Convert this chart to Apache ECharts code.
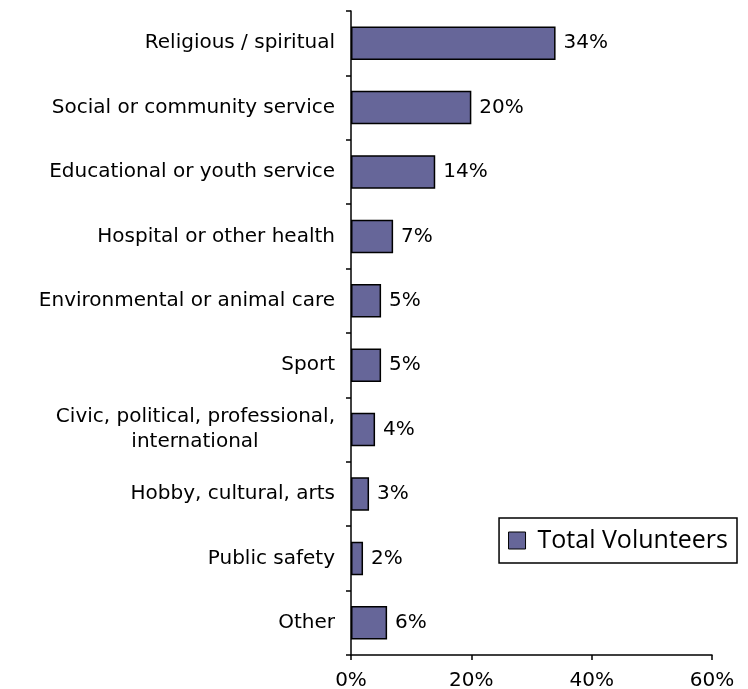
<!DOCTYPE html>
<html>
<head>
<meta charset="utf-8">
<script src="https://cdn.jsdelivr.net/npm/echarts@6/dist/echarts.min.js"></script>
<style>
  html, body { margin: 0; padding: 0; background: #ffffff; }
  #chart { width: 748px; height: 689px; }
</style>
</head>
<body>
<div id="chart"></div>
<script>
// Volunteer share by type of organisation
const categories = [
  'Religious / spiritual',
  'Social or community service',
  'Educational or youth service',
  'Hospital or other health',
  'Environmental or animal care',
  'Sport',
  'Civic, political, professional,\ninternational',
  'Hobby, cultural, arts',
  'Public safety',
  'Other'
];
const totalVolunteers = [34, 20, 14, 7, 5, 5, 4, 3, 2, 6];
const xTicks = { min: 0, max: 60, interval: 20 };

const labelFont = 'DejaVu Sans';
const labelSize = 20;

// width of the first line of a two-line label, so the second line can be centred under it
function lineWidth(text) {
  const c = document.createElement('canvas').getContext('2d');
  c.font = labelSize + 'px "' + labelFont + '"';
  return Math.ceil(c.measureText(text).width);
}

const chart = echarts.init(document.getElementById('chart'));
chart.setOption({
  backgroundColor: '#ffffff',
  animation: false,
  grid: {
    left: 351, top: 11, width: 361, height: 644,
    containLabel: false,
    outerBoundsMode: 'none'
  },
  legend: {
    data: ['Total Volunteers'],
    right: 11,
    top: 518,
    orient: 'vertical',
    icon: 'rect',
    itemWidth: 17,
    itemHeight: 17,
    itemGap: 6,
    padding: [10, 9, 10, 9],
    borderColor: '#000000',
    borderWidth: 1.5,
    textStyle: { fontFamily: 'Open Sans', fontSize: 25, color: '#000000', padding: [0, 0, 0, 7] },
    itemStyle: { borderColor: '#000000', borderWidth: 1 }
  },
  xAxis: {
    type: 'value',
    min: xTicks.min,
    max: xTicks.max,
    interval: xTicks.interval,
    splitLine: { show: false },
    axisLine: { show: true, lineStyle: { color: '#000000', width: 1.5 } },
    axisTick: { show: true, length: 5, lineStyle: { color: '#000000', width: 1.5 } },
    axisLabel: {
      formatter: '{value}%',
      fontFamily: labelFont,
      fontSize: labelSize,
      color: '#000000',
      margin: 16
    }
  },
  yAxis: {
    type: 'category',
    inverse: true,
    data: categories,
    axisLine: { show: true, lineStyle: { color: '#000000', width: 1.5 } },
    axisTick: { show: true, length: 5, lineStyle: { color: '#000000', width: 1.5 } },
    axisLabel: {
      fontFamily: labelFont,
      fontSize: labelSize,
      color: '#000000',
      margin: 16,
      lineHeight: 25,
      formatter: function (v) {
        const parts = v.split('\n');
        if (parts.length === 1) return v;
        return '{a|' + parts[0] + '}\n{b|' + parts[1] + '}';
      },
      rich: {
        a: { fontFamily: labelFont, fontSize: labelSize, color: '#000000', lineHeight: 25 },
        b: {
          fontFamily: labelFont, fontSize: labelSize, color: '#000000', lineHeight: 25,
          width: lineWidth('Civic, political, professional,'), align: 'center'
        }
      }
    }
  },
  series: [{
    name: 'Total Volunteers',
    type: 'bar',
    data: totalVolunteers,
    barCategoryGap: '48%',
    itemStyle: { color: '#666699', borderColor: '#000000', borderWidth: 1.5 },
    label: {
      show: true,
      position: 'right',
      distance: 8,
      formatter: '{c}%',
      fontFamily: labelFont,
      fontSize: labelSize,
      color: '#000000'
    }
  }]
});
</script>
</body>
</html>
